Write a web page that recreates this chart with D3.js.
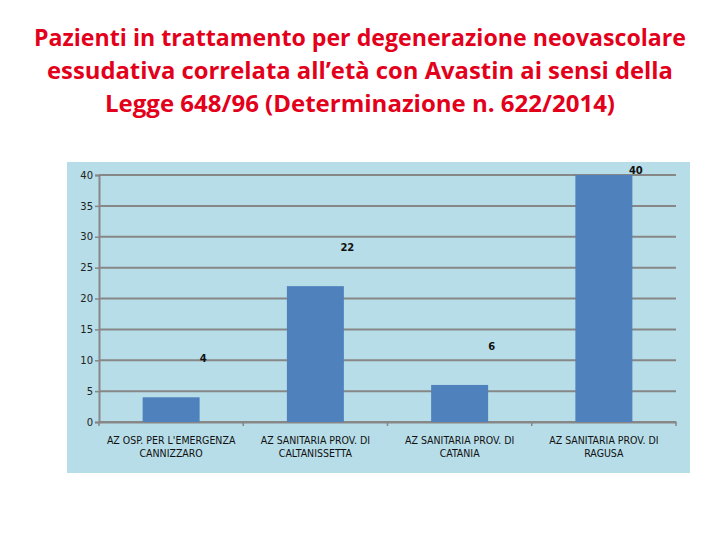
<!DOCTYPE html>
<html>
<head>
<meta charset="utf-8">
<script src="https://cdn.jsdelivr.net/npm/d3@7"></script>
<style>
  body { margin: 0; background: #fff; }
  svg { display: block; }
</style>
</head>
<body>
<script>
// data
var titleLines = [
  "Pazienti in trattamento per degenerazione neovascolare",
  "essudativa correlata all\u2019età  con Avastin ai sensi della",
  "Legge 648/96 (Determinazione n. 622/2014)"
];
var categories = [
  ["AZ OSP. PER L'EMERGENZA", "CANNIZZARO"],
  ["AZ SANITARIA PROV. DI", "CALTANISSETTA"],
  ["AZ SANITARIA PROV. DI", "CATANIA"],
  ["AZ SANITARIA PROV. DI", "RAGUSA"]
];
var values = [4, 22, 6, 40];
var yTicks = [0, 5, 10, 15, 20, 25, 30, 35, 40];

var W = 720, H = 540;
var svg = d3.select("body").append("svg").attr("width", W).attr("height", H);

// title
svg.selectAll("text.title").data(titleLines).enter().append("text")
  .attr("class", "title")
  .attr("x", 360)
  .attr("y", function(d, i){ return 46 + i * 33; })
  .attr("text-anchor", "middle")
  .attr("textLength", function(d, i){ return [652, 626, 510][i]; })
  .attr("lengthAdjust", "spacingAndGlyphs")
  .style("font-family", "'Open Sans', 'Noto Sans', sans-serif")
  .style("font-weight", "bold")
  .style("font-size", "23px")
  .style("fill", "#e3001b")
  .text(function(d){ return d; });

// panel
svg.append("rect")
  .attr("x", 67).attr("y", 162)
  .attr("width", 623).attr("height", 311)
  .attr("fill", "#b7dde8");

var pLeft = 99, pRight = 676, pTop = 175, pBottom = 422;

var x = d3.scaleBand().domain(d3.range(categories.length)).range([pLeft, pRight]).paddingInner(0).paddingOuter(0);
var y = d3.scaleLinear().domain([0, 40]).range([pBottom, pTop]);

// gridlines
svg.append("g").selectAll("line").data(yTicks).enter().append("line")
  .attr("x1", pLeft).attr("x2", pRight)
  .attr("y1", function(d){ return y(d); })
  .attr("y2", function(d){ return y(d); })
  .style("stroke", "#878787")
  .style("stroke-width", 2);

// y axis
var yAxis = svg.append("g")
  .attr("transform", "translate(" + pLeft + ",0)")
  .call(d3.axisLeft(y).tickValues(yTicks).tickSize(4).tickPadding(2));
yAxis.select(".domain").style("stroke", "#878787").style("stroke-width", 2);
yAxis.selectAll(".tick line").style("stroke", "#878787").style("stroke-width", 1.5);
yAxis.selectAll("text")
  .style("font-family", "'DejaVu Sans', sans-serif")
  .style("font-size", "10px")
  .style("fill", "#222");

// x axis
var xAxis = svg.append("g")
  .attr("transform", "translate(0," + pBottom + ")")
  .call(d3.axisBottom(x).tickValues([]).tickSizeOuter(0));
xAxis.select(".domain").style("stroke", "#878787").style("stroke-width", 2);
svg.append("g").selectAll("line").data(d3.range(categories.length + 1)).enter().append("line")
  .attr("x1", function(d){ return pLeft + d * x.bandwidth(); })
  .attr("x2", function(d){ return pLeft + d * x.bandwidth(); })
  .attr("y1", pBottom).attr("y2", pBottom + 4)
  .style("stroke", "#878787").style("stroke-width", 1.5);

// bars
var barW = 57;
svg.append("g").selectAll("rect").data(values).enter().append("rect")
  .attr("x", function(d, i){ return x(i) + x.bandwidth() / 2 - barW / 2; })
  .attr("y", function(d){ return y(d); })
  .attr("width", barW)
  .attr("height", function(d){ return pBottom - y(d); })
  .attr("fill", "#4f81bd");

// value labels
svg.append("g").selectAll("text").data(values).enter().append("text")
  .attr("x", function(d, i){ return x(i) + x.bandwidth() / 2 + 32; })
  .attr("y", function(d){ return Math.max(y(d) - 35, pTop - 1); })
  .attr("text-anchor", "middle")
  .style("font-family", "'DejaVu Sans', sans-serif")
  .style("font-weight", "bold")
  .style("font-size", "10px")
  .style("fill", "#111")
  .text(function(d){ return d; });

// category labels
var cat = svg.append("g").selectAll("text").data(categories).enter().append("text")
  .attr("x", function(d, i){ return x(i) + x.bandwidth() / 2; })
  .attr("y", 444)
  .attr("text-anchor", "middle")
  .style("font-family", "'DejaVu Sans Condensed', 'DejaVu Sans', sans-serif")
  .style("font-size", "10.5px")
  .style("fill", "#111");
cat.selectAll("tspan").data(function(d){ return d; }).enter().append("tspan")
  .attr("x", function(){ return d3.select(this.parentNode).attr("x"); })
  .attr("dy", function(d, i){ return i === 0 ? 0 : 13; })
  .text(function(d){ return d; });
</script>
</body>
</html>
